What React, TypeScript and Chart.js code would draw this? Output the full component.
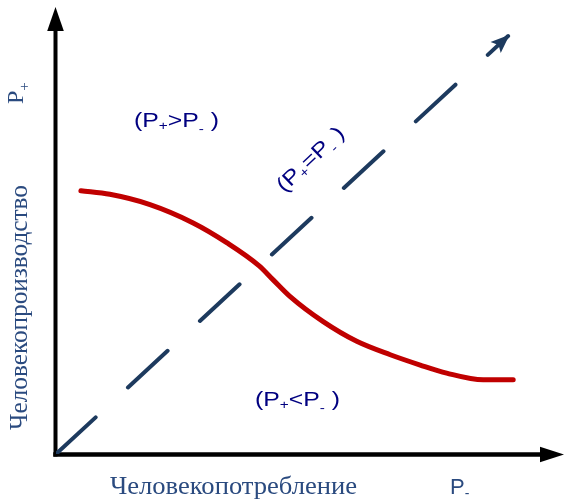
import React, { useEffect, useRef } from 'react';
import { Chart, registerables } from 'chart.js';

Chart.register(...registerables);

// ---- data ----
const axisMin = 0;
const axisMax = 10;

const curveX = [0.49, 1.06, 1.85, 2.7, 3.36, 4.0, 4.28, 4.61, 5.26, 5.92, 6.58, 7.17, 7.69, 8.41, 9.0];
const curveY = [5.89, 5.81, 5.58, 5.17, 4.73, 4.21, 3.89, 3.52, 2.96, 2.52, 2.22, 1.99, 1.81, 1.66, 1.66];

const diagonalX = [0, 8.9];
const diagonalY = [0, 9.35];

const yAxisTitle = 'Человекопроизводство';
const xAxisTitle = 'Человекопотребление';

type Part = { t: string; sub?: boolean; dy?: number };
const yAxisSymbol: Part[] = [{ t: 'P' }, { t: '+', sub: true, dy: 6 }];
const xAxisSymbol: Part[] = [{ t: 'P' }, { t: '-', sub: true, dy: 4 }];
const labelAbove: Part[] = [{ t: '(P' }, { t: '+', sub: true, dy: 3 }, { t: '>P' }, { t: '-', sub: true, dy: 6 }, { t: ' )' }];
const labelBelow: Part[] = [{ t: '(P' }, { t: '+', sub: true, dy: 3 }, { t: '<P' }, { t: '-', sub: true, dy: 6 }, { t: ' )' }];
const labelEqual: Part[] = [{ t: '(P' }, { t: '+', sub: true, dy: 3 }, { t: '=P' }, { t: '-', sub: true, dy: 6 }, { t: ' )' }];

// ---- styles ----
const curveColor = '#c00000';
const diagColor = '#1d3a5e';
const regionColor = '#000080';
const axisTextColor = '#2a4a7f';

type RichOpts = {
  x: number;
  y: number;
  font: string;
  subFont: string;
  color: string;
  width?: number;
  angle?: number;
  center?: boolean;
};

function drawRich(ctx: CanvasRenderingContext2D, parts: Part[], o: RichOpts) {
  ctx.save();
  let total = 0;
  const widths = parts.map((p) => {
    ctx.font = p.sub ? o.subFont : o.font;
    const w = ctx.measureText(p.t).width;
    total += w;
    return w;
  });
  const sx = o.width ? o.width / total : 1;
  ctx.translate(o.x, o.y);
  ctx.rotate(o.angle || 0);
  ctx.scale(sx, 1);
  ctx.fillStyle = o.color;
  ctx.textAlign = 'left';
  ctx.textBaseline = 'alphabetic';
  let cx = o.center ? -total / 2 : 0;
  parts.forEach((p, i) => {
    ctx.font = p.sub ? o.subFont : o.font;
    ctx.fillText(p.t, cx, p.dy || 0);
    cx += widths[i];
  });
  ctx.restore();
}

const decorPlugin = {
  id: 'decor',
  beforeDatasetsDraw(chart: any) {
    const { ctx, scales } = chart;
    const xs = scales.x;
    const ys = scales.y;
    const ox = xs.getPixelForValue(axisMin) - 0.5;
    const oy = ys.getPixelForValue(axisMin) + 0.5;
    const xEnd = xs.getPixelForValue(axisMax);
    const yEnd = ys.getPixelForValue(axisMax);
    ctx.save();
    ctx.strokeStyle = '#000';
    ctx.fillStyle = '#000';
    ctx.lineCap = 'square';
    ctx.lineWidth = 4;
    ctx.beginPath();
    ctx.moveTo(ox, oy);
    ctx.lineTo(ox, yEnd + 20);
    ctx.stroke();
    ctx.lineWidth = 4.5;
    ctx.beginPath();
    ctx.moveTo(ox, oy);
    ctx.lineTo(xEnd - 20, oy);
    ctx.stroke();
    ctx.beginPath();
    ctx.moveTo(ox, yEnd);
    ctx.lineTo(ox - 8.3, yEnd + 24);
    ctx.lineTo(ox + 8.3, yEnd + 24);
    ctx.closePath();
    ctx.fill();
    ctx.beginPath();
    ctx.moveTo(xEnd, oy);
    ctx.lineTo(xEnd - 24, oy - 7.7);
    ctx.lineTo(xEnd - 24, oy + 7.7);
    ctx.closePath();
    ctx.fill();
    ctx.restore();
  },
  afterDatasetsDraw(chart: any) {
    const { ctx } = chart;
    const pts = chart.getDatasetMeta(1).data;
    const a = pts[pts.length - 2];
    const b = pts[pts.length - 1];
    const ang = Math.atan2(b.y - a.y, b.x - a.x);
    ctx.save();
    ctx.translate(b.x, b.y);
    ctx.rotate(ang);
    ctx.beginPath();
    ctx.moveTo(2, 0);
    ctx.lineTo(-17, -7.5);
    ctx.lineTo(-13, 0);
    ctx.lineTo(-17, 7.5);
    ctx.closePath();
    ctx.fillStyle = diagColor;
    ctx.fill();
    ctx.restore();

    const sans = '"Liberation Sans", Arial, sans-serif';
    const serif = '"Liberation Serif", "Times New Roman", serif';

    drawRich(ctx, labelAbove, { x: 134, y: 127, font: `21px ${sans}`, subFont: `13px ${sans}`, color: regionColor, width: 85 });
    drawRich(ctx, labelBelow, { x: 255, y: 406, font: `21px ${sans}`, subFont: `13px ${sans}`, color: regionColor, width: 85 });
    drawRich(ctx, labelEqual, { x: 315, y: 164, font: `21px ${sans}`, subFont: `13px ${sans}`, color: regionColor, width: 85, angle: -0.76, center: true });

    drawRich(ctx, [{ t: xAxisTitle }], { x: 110, y: 494, font: `25px ${serif}`, subFont: `25px ${serif}`, color: axisTextColor, width: 247 });
    drawRich(ctx, xAxisSymbol, { x: 450, y: 494, font: `22px ${sans}`, subFont: `14px ${sans}`, color: axisTextColor });
    drawRich(ctx, [{ t: yAxisTitle }], { x: 27, y: 430, font: `25px ${serif}`, subFont: `25px ${serif}`, color: axisTextColor, width: 245, angle: -Math.PI / 2 });
    drawRich(ctx, yAxisSymbol, { x: 23, y: 104, font: `24px ${serif}`, subFont: `15px ${serif}`, color: axisTextColor, angle: -Math.PI / 2 });
  },
};

export default function App() {
  const ref = useRef<HTMLCanvasElement | null>(null);

  useEffect(() => {
    if (!ref.current) return;
    const chart = new Chart(ref.current, {
      type: 'scatter',
      data: {
        datasets: [
          {
            data: curveX.map((x, i) => ({ x, y: curveY[i] })),
            showLine: true,
            borderColor: curveColor,
            borderWidth: 5,
            pointRadius: 0,
            cubicInterpolationMode: 'monotone',
            borderCapStyle: 'round',
            borderJoinStyle: 'round',
          },
          {
            data: diagonalX.map((x, i) => ({ x, y: diagonalY[i] })),
            showLine: true,
            borderColor: diagColor,
            borderWidth: 4,
            borderDash: [54, 44],
            borderCapStyle: 'round',
            pointRadius: 0,
          },
        ],
      } as any,
      options: {
        animation: false,
        responsive: false,
        maintainAspectRatio: false,
        layout: { padding: { left: 56, right: 1, top: 7, bottom: 46 } },
        scales: {
          x: { type: 'linear', min: axisMin, max: axisMax, display: false },
          y: { type: 'linear', min: axisMin, max: axisMax, display: false },
        },
        plugins: {
          legend: { display: false },
          tooltip: { enabled: false },
        },
      } as any,
      plugins: [decorPlugin],
    });
    return () => chart.destroy();
  }, []);

  return (
    <div style={{ position: 'fixed', left: 0, top: 0, width: 565, height: 500, background: '#fff' }}>
      <canvas ref={ref} width={565} height={500} style={{ display: 'block' }} />
    </div>
  );
}
